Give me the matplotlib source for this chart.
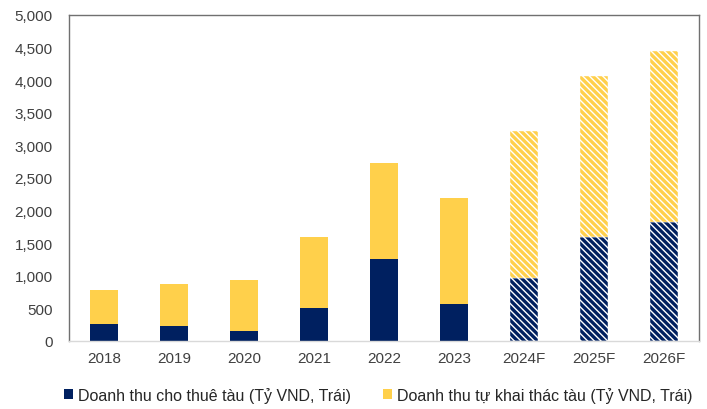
import numpy as np
import matplotlib.pyplot as plt
from matplotlib.patches import Patch

plt.rcParams['font.family'] = ['Liberation Sans', 'DejaVu Sans']
plt.rcParams['hatch.linewidth'] = 1.0

# Doanh thu (Ty VND)
years = ['2018', '2019', '2020', '2021', '2022', '2023', '2024F', '2025F', '2026F']
cho_thue = [261, 225, 158, 502, 1253, 563, 966, 1588, 1819]
tu_khai_thac_total = [782, 874, 940, 1600, 2735, 2198, 3221, 4069, 4452]
is_forecast = [False] * 6 + [True] * 3

tu_khai_thac = [t - c for t, c in zip(tu_khai_thac_total, cho_thue)]

NAVY = '#002060'
YELLOW = '#FFD04B'

fig, ax = plt.subplots(figsize=(7.07, 4.10), dpi=100)
fig.subplots_adjust(left=0.098, right=0.988, top=0.961, bottom=0.166)

x = np.arange(len(years))
for i in x:
    hatch = '\\\\\\\\\\' if is_forecast[i] else None
    ax.bar(i, cho_thue[i], width=0.4, color=NAVY, edgecolor='white',
           linewidth=0.3 if is_forecast[i] else 0, hatch=hatch)
    ax.bar(i, tu_khai_thac[i], bottom=cho_thue[i], width=0.4, color=YELLOW,
           edgecolor='white', linewidth=0.3 if is_forecast[i] else 0, hatch=hatch)

ax.set_xlim(-0.5, len(years) - 0.5)
ax.set_ylim(0, 5000)
ax.set_yticks(np.arange(0, 5001, 500))
ax.set_yticklabels([f'{v:,}' for v in range(0, 5001, 500)])
ax.set_xticks(x)
ax.set_xticklabels(years)
ax.tick_params(length=0, labelsize=11, colors='#404040', pad=7)
ax.tick_params(axis='y', pad=12)

for s in ['left', 'top', 'right']:
    ax.spines[s].set_color('#707070')
    ax.spines[s].set_linewidth(1.0)
ax.spines['bottom'].set_color('#D9D9D9')
ax.spines['bottom'].set_linewidth(1.0)

handles = [Patch(facecolor=NAVY, label='Doanh thu cho thuê tàu (Tỷ VND, Trái)'),
           Patch(facecolor=YELLOW, label='Doanh thu tự khai thác tàu (Tỷ VND, Trái)')]
fig.legend(handles=handles, loc='lower center', bbox_to_anchor=(0.535, -0.02), ncol=2,
           frameon=False, fontsize=11.5, handlelength=0.55, handleheight=0.55,
           handletextpad=0.3, columnspacing=2.0, labelcolor='#262626')

fig.savefig('out.png', dpi=100)
